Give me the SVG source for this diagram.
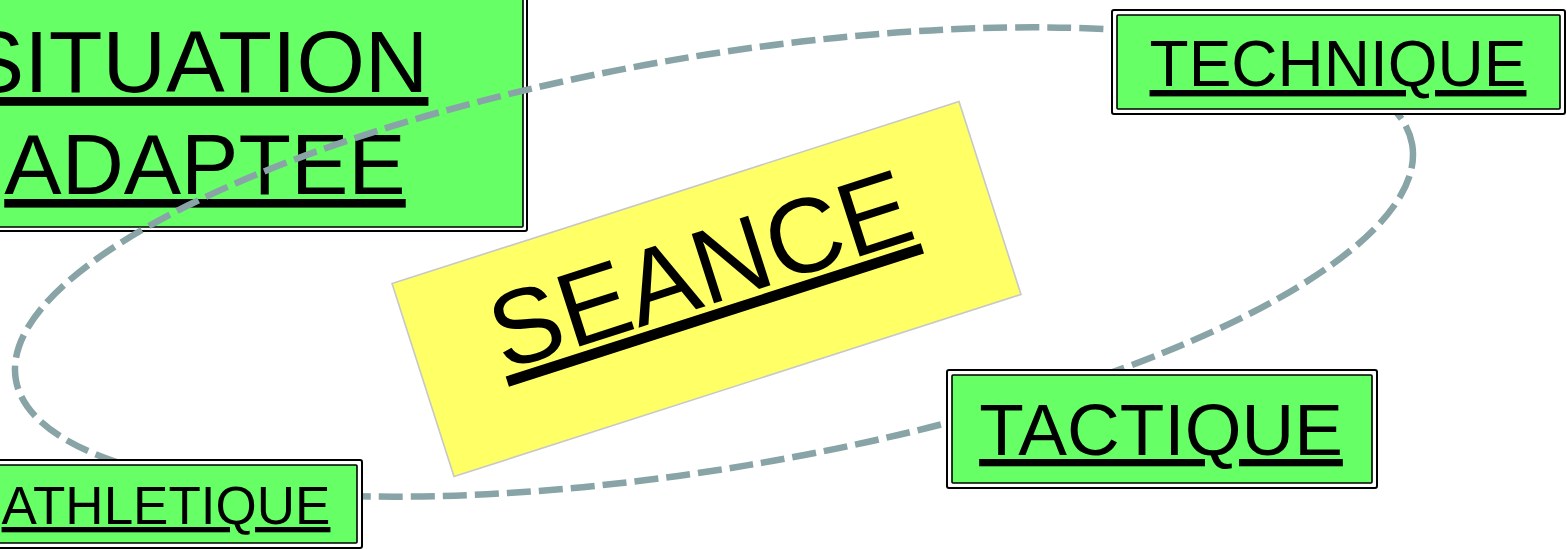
<svg xmlns="http://www.w3.org/2000/svg" width="1567" height="549" viewBox="0 0 1567 549">
<style>
.outer{fill:#ffffff;stroke:#000;stroke-width:2}
.inner{fill:#66FF66;stroke:#000;stroke-width:1.6}
.lbl{font-family:"Liberation Sans",Arial,sans-serif;fill:#000;text-anchor:middle;text-decoration:underline}
.ring{fill:none;stroke:#88A4A6;stroke-width:6.5;stroke-dasharray:24 8}
</style>
<rect width="1567" height="549" fill="#ffffff"/>
<g id="node-situation">
<rect class="outer" x="-130" y="-10" width="657" height="241" rx="2"/>
<rect class="inner" x="-126" y="-6" width="649" height="233" rx="1"/>
<text class="lbl" x="197" y="92" font-size="88">SITUATION</text>
<text class="lbl" x="205" y="194" font-size="86">ADAPTEE</text>
</g>
<g id="connectors">
<ellipse class="ring" cx="714" cy="262" rx="708" ry="206" transform="rotate(-9.55 714 262)"/>
</g>
<g id="node-technique">
<rect class="outer" x="1112" y="10" width="453" height="104" rx="2"/>
<rect class="inner" x="1117" y="15" width="443" height="94" rx="1"/>
<text class="lbl" x="1338" y="86" font-size="64">TECHNIQUE</text>
</g>
<g id="node-tactique">
<rect class="outer" x="947" y="370" width="430" height="118" rx="2"/>
<rect class="inner" x="952" y="375" width="420" height="108" rx="1"/>
<text class="lbl" x="1161" y="455" font-size="73">TACTIQUE</text>
</g>
<g id="node-athletique">
<rect class="outer" x="-30" y="460" width="392" height="88" rx="2"/>
<rect class="inner" x="-25" y="465" width="382" height="78" rx="1"/>
<text class="lbl" x="166" y="524" font-size="53">ATHLETIQUE</text>
</g>
<g id="node-seance" transform="translate(706.5 289) rotate(-17.8)">
<rect x="-297.75" y="-101.35" width="595.5" height="202.7" fill="#FFFF66" stroke="#C8C8C8" stroke-width="1.6"/>
<text class="lbl" x="0" y="16" font-size="106">SEANCE</text>
</g>
</svg>
